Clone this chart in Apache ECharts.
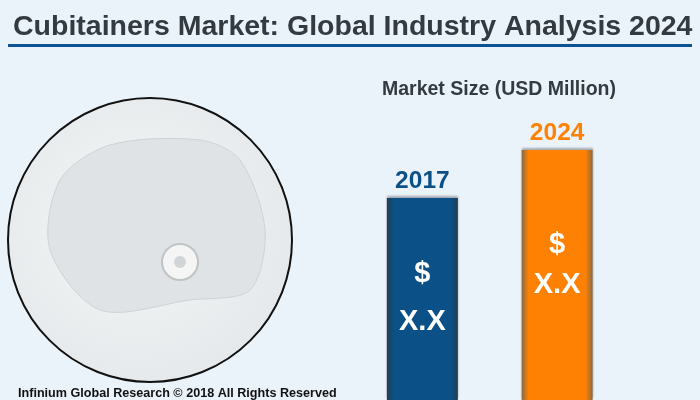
<!DOCTYPE html>
<html><head><meta charset="utf-8">
<script src="https://cdn.jsdelivr.net/npm/echarts@6/dist/echarts.min.js"></script>
<style>html,body{margin:0;padding:0;background:#ebf3fa}#c{width:700px;height:400px}</style>
</head><body><div id="c"></div>
<script>
var categories = ['2017', '2024'];
var values = [67.3, 83.3];
var barColors = ['#0b5087', '#ff8104'];
var edgeColors = ['#243d52', '#8a6a45'];
var valueText = ['$', 'X.X'];

function grad(c, e) {
  return new echarts.graphic.LinearGradient(0, 0, 1, 0, [
    {offset: 0, color: e}, {offset: 0.1, color: c}, {offset: 0.9, color: c}, {offset: 1, color: e}
  ]);
}
var chart = echarts.init(document.getElementById('c'));
var dists = [52, 75];
chart.setOption({
  backgroundColor: '#ebf3fa',
  animation: false,
  title: [{
    text: 'Cubitainers Market: Global Industry Analysis 2024', left: 8, top: 8,
    textStyle: {fontFamily: 'Liberation Sans', fontWeight: 'bold', fontSize: 28.5, color: '#333b40'}
  }, {
    text: 'Market Size (USD Million)', left: 494, textAlign: 'center', top: 75,
    textStyle: {fontFamily: 'Liberation Sans', fontWeight: 'bold', fontSize: 19.5, color: '#333b40'}
  }, {
    text: 'Infinium Global Research © 2018 All Rights Reserved', left: 13, top: 382,
    textStyle: {fontFamily: 'Liberation Sans', fontWeight: 'bold', fontSize: 12.6, color: '#111'}
  }],
  graphic: [
    {type: 'rect', shape: {x: 8, y: 44, width: 684, height: 3}, style: {fill: '#0b5394'}},
    {type: 'circle', shape: {cx: 150, cy: 240, r: 142},
     style: {fill: new echarts.graphic.RadialGradient(0.45, 0.45, 0.7, [{offset: 0, color: '#f4f6f7'}, {offset: 0.8, color: '#e6e9eb'}, {offset: 1, color: '#c8cccf'}]), stroke: '#111', lineWidth: 2}},
    {type: 'polygon', shape: {points: [[60, 180], [110, 145], [200, 140], [240, 160], [265, 230], [250, 290], [190, 300], [100, 310], [50, 250]], smooth: 0.3},
     style: {fill: '#dfe3e5', stroke: '#cfd3d6', lineWidth: 1}},
    {type: 'circle', shape: {cx: 180, cy: 262, r: 18}, style: {fill: '#f5f5f5', stroke: '#bfc3c5', lineWidth: 2}},
    {type: 'circle', shape: {cx: 180, cy: 262, r: 6}, style: {fill: '#d2d5d7'}}
  ],
  grid: {left: 355, right: 75.5, top: 100, bottom: 0},
  xAxis: {type: 'category', data: categories, show: false},
  yAxis: {type: 'value', min: 0, max: 100, show: false},
  series: [{
    type: 'bar', barWidth: 71, barGap: 0,
    data: values.map(function (v, i) {
      return {
        value: v,
        itemStyle: {color: grad(barColors[i], edgeColors[i]),
          shadowColor: 'rgba(0,0,0,0.3)', shadowOffsetY: -2, shadowBlur: 2},
        label: {show: true, position: 'top', distance: 4, formatter: categories[i],
          fontFamily: 'Liberation Sans', fontWeight: 'bold', fontSize: 24.5, color: barColors[i]}
      };
    })
  }, {
    type: 'bar', barWidth: 71, barGap: '-100%', silent: true,
    itemStyle: {color: 'transparent'},
    data: values.map(function (v, i) {
      return {
        value: v,
        label: {show: true, position: 'insideTop', distance: dists[i],
          formatter: valueText[0] + '\n' + valueText[1],
          fontFamily: 'Liberation Sans', fontWeight: 'bold', fontSize: 29, lineHeight: i === 0 ? 48 : 40, color: '#fff'}
      };
    })
  }]
});
</script></body></html>
